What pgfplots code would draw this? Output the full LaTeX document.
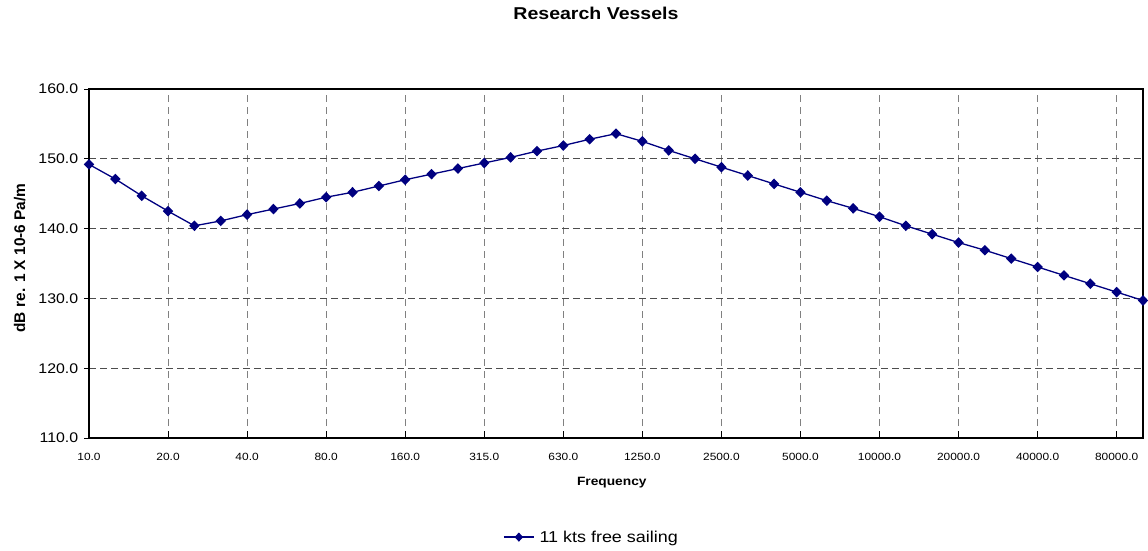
\documentclass[border=0pt]{standalone}
\usepackage{fontspec}
\setmainfont{Liberation Sans}[FakeStretch=1.14]
\newfontfamily\ylabfont{Liberation Sans}
\usepackage{pgfplots}
\usepackage{pgfplotstable}
\pgfplotsset{compat=1.18}

\definecolor{seriesblue}{HTML}{000080}
\definecolor{gridgray}{HTML}{808080}
\definecolor{gridhgray}{HTML}{4D4D4D}

% One-third-octave band levels: band index, centre frequency (Hz), level (dB)
\pgfplotstableread{
idx freq level
0 10 149.2
1 12.5 147.1
2 16 144.7
3 20 142.5
4 25 140.4
5 31.5 141.1
6 40 142.0
7 50 142.8
8 63 143.6
9 80 144.5
10 100 145.2
11 125 146.1
12 160 147.0
13 200 147.8
14 250 148.6
15 315 149.4
16 400 150.2
17 500 151.1
18 630 151.9
19 800 152.8
20 1000 153.6
21 1250 152.5
22 1600 151.2
23 2000 150.0
24 2500 148.8
25 3150 147.6
26 4000 146.4
27 5000 145.2
28 6300 144.0
29 8000 142.9
30 10000 141.7
31 12500 140.4
32 16000 139.2
33 20000 138.0
34 25000 136.9
35 31500 135.7
36 40000 134.5
37 50000 133.3
38 63000 132.1
39 80000 130.9
40 100000 129.7
}\levels

\begin{document}
\begin{tikzpicture}
\begin{axis}[
  scale only axis,
  width=1054bp, height=349bp,
  xmin=0, xmax=40,
  ymin=110, ymax=160,
  clip=false,
  axis line style={black, line width=1.2bp},
  xtick={0,3,...,39},
  xticklabels={10.0,20.0,40.0,80.0,160.0,315.0,630.0,1250.0,2500.0,5000.0,10000.0,20000.0,40000.0,80000.0},
  ytick={110,120,...,160},
  yticklabel style={/pgf/number format/fixed, /pgf/number format/fixed zerofill,
                    /pgf/number format/precision=1},
  /pgf/number format/assume math mode=true,
  x tick label style={font=\fontsize{10.5}{12}\selectfont, yshift=-12bp},
  y tick label style={font=\fontsize{14}{16}\selectfont, xshift=-3bp},
  xtick style={black, line width=0.8bp},
  ytick style={black, line width=0.8bp},
  x tick style={/pgfplots/major tick length=7bp},
  y tick style={/pgfplots/major tick length=5bp},
  xtick align=inside,
  ytick align=outside,
  xtick pos=bottom,
  ytick pos=left,
  xmajorgrids, ymajorgrids,
  x grid style={gridgray, line width=1bp, dash pattern=on 7bp off 5bp},
  y grid style={gridhgray, line width=1bp, dash pattern=on 7bp off 4bp},
  title={\bfseries Research Vessels},
  title style={at={(axis description cs:0.481,1)}, anchor=base, yshift=64bp,
               font=\fontsize{17.2}{20}\selectfont},
  xlabel={\bfseries Frequency},
  xlabel style={at={(axis description cs:0.496,0)}, anchor=base, yshift=-47bp,
                font=\fontsize{12.1}{14}\selectfont},
  ylabel={\ylabfont\bfseries dB re. 1 X 10-6 Pa/m},
  ylabel style={at={(axis description cs:-0.0607,0.516)}, anchor=base,
                font=\fontsize{15.5}{18}\selectfont},
  legend style={at={(axis description cs:0.3928,-0.284)}, anchor=west,
                draw=none, fill=none, inner sep=0pt,
                font=\fontsize{15.8}{18}\selectfont},
  legend cell align=left,
  legend image code/.code={%
    \draw[#1, mark repeat=2, mark phase=2, mark size=3.6bp]
      plot coordinates {(0bp,0bp) (15bp,0bp) (30bp,0bp)};},
]
\addplot[seriesblue, line width=1.3bp, mark=diamond*,
         mark size=4.4bp, mark options={xscale=1.3, solid, fill=seriesblue}]
  table[x=idx, y=level] {\levels};
\addlegendentry{\hspace{3bp}11 kts free sailing}
\end{axis}
\pgfresetboundingbox
\path[use as bounding box] ([xshift=-89bp,yshift=-112bp]current axis.south west)
  rectangle ([xshift=5bp,yshift=89bp]current axis.north east);
\end{tikzpicture}
\end{document}
